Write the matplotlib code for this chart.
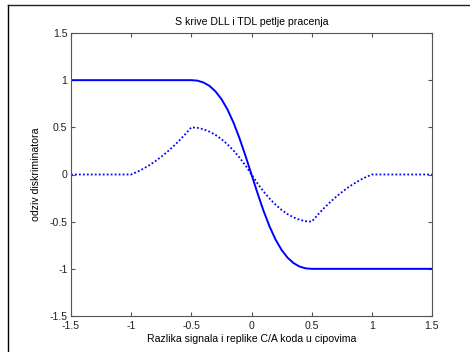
import matplotlib
matplotlib.use('Agg')
from matplotlib import pyplot as plt
from matplotlib.lines import Line2D

# values
dll_x = [-1.5, -0.5, -0.45, -0.4, -0.35, -0.3, -0.25, -0.2, -0.15, -0.1, -0.05, 0.0,
         0.05, 0.1, 0.15, 0.2, 0.25, 0.3, 0.35, 0.4, 0.45, 0.5, 1.5]
dll_y = [1.0, 1.0, 0.995, 0.976, 0.94, 0.882, 0.8, 0.69, 0.551, 0.385, 0.198, 0.0,
         -0.198, -0.385, -0.551, -0.69, -0.8, -0.882, -0.94, -0.976, -0.995, -1.0, -1.0]

tdl_x = [-1.5, -1.0, -0.95, -0.9, -0.85, -0.8, -0.75, -0.7, -0.65, -0.6, -0.55, -0.5,
         -0.45, -0.4, -0.35, -0.3, -0.25, -0.2, -0.15, -0.1, -0.05, 0.0,
         0.05, 0.1, 0.15, 0.2, 0.25, 0.3, 0.35, 0.4, 0.45, 0.5,
         0.55, 0.6, 0.65, 0.7, 0.75, 0.8, 0.85, 0.9, 0.95, 1.0, 1.5]
tdl_y = [0.0, 0.0, 0.028, 0.06, 0.098, 0.14, 0.188, 0.24, 0.298, 0.36, 0.428, 0.5,
         0.495, 0.48, 0.455, 0.42, 0.375, 0.32, 0.255, 0.18, 0.095, 0.0,
         -0.095, -0.18, -0.255, -0.32, -0.375, -0.42, -0.455, -0.48, -0.495, -0.5,
         -0.428, -0.36, -0.298, -0.24, -0.188, -0.14, -0.098, -0.06, -0.028, 0.0, 0.0]

ticks = [-1.5, -1.0, -0.5, 0.0, 0.5, 1.0, 1.5]
tick_labels = ['-1.5', '-1', '-0.5', '0', '0.5', '1', '1.5']

plt.rcParams['font.family'] = ['Liberation Sans', 'DejaVu Sans']
plt.rcParams['font.size'] = 7.6

fig = plt.figure(figsize=(4.7, 3.52), dpi=100)
ax = fig.add_axes([71/470, 1 - 316/352, (432 - 71)/470, (316 - 33)/352])

ax.plot(dll_x, dll_y, color='#0000ff', linewidth=1.4)
ax.plot(tdl_x, tdl_y, color='#0000ff', linewidth=1.3, linestyle=(0, (1, 1.2)))

ax.set_xlim(-1.5, 1.5)
ax.set_ylim(-1.5, 1.5)
ax.set_xticks(ticks)
ax.set_xticklabels(tick_labels)
ax.set_yticks(ticks)
ax.set_yticklabels(tick_labels)
ax.tick_params(direction='in', length=3, width=0.8, color='#555555',
               top=True, right=True, labelcolor='#222222')
ax.tick_params(axis='x', pad=3.5)
ax.tick_params(axis='y', pad=2.5)
for s in ax.spines.values():
    s.set_color('#555555')
    s.set_linewidth(0.8)

ax.set_title('S krive DLL i TDL petlje pracenja', fontsize=7.6, pad=6)
ax.set_xlabel('Razlika signala i replike C/A koda u cipovima', fontsize=7.6, labelpad=2)
ax.set_ylabel('odziv diskriminatora', fontsize=7.6, labelpad=6)

# black frame at top and left (picture is cropped)
fig.add_artist(Line2D([8/470, 1.0], [1 - 5/352, 1 - 5/352], transform=fig.transFigure,
                      color='#222222', linewidth=1.0))
fig.add_artist(Line2D([8/470, 8/470], [0.0, 1 - 5/352], transform=fig.transFigure,
                      color='black', linewidth=1.0))

fig.savefig('out.png', dpi=100)
